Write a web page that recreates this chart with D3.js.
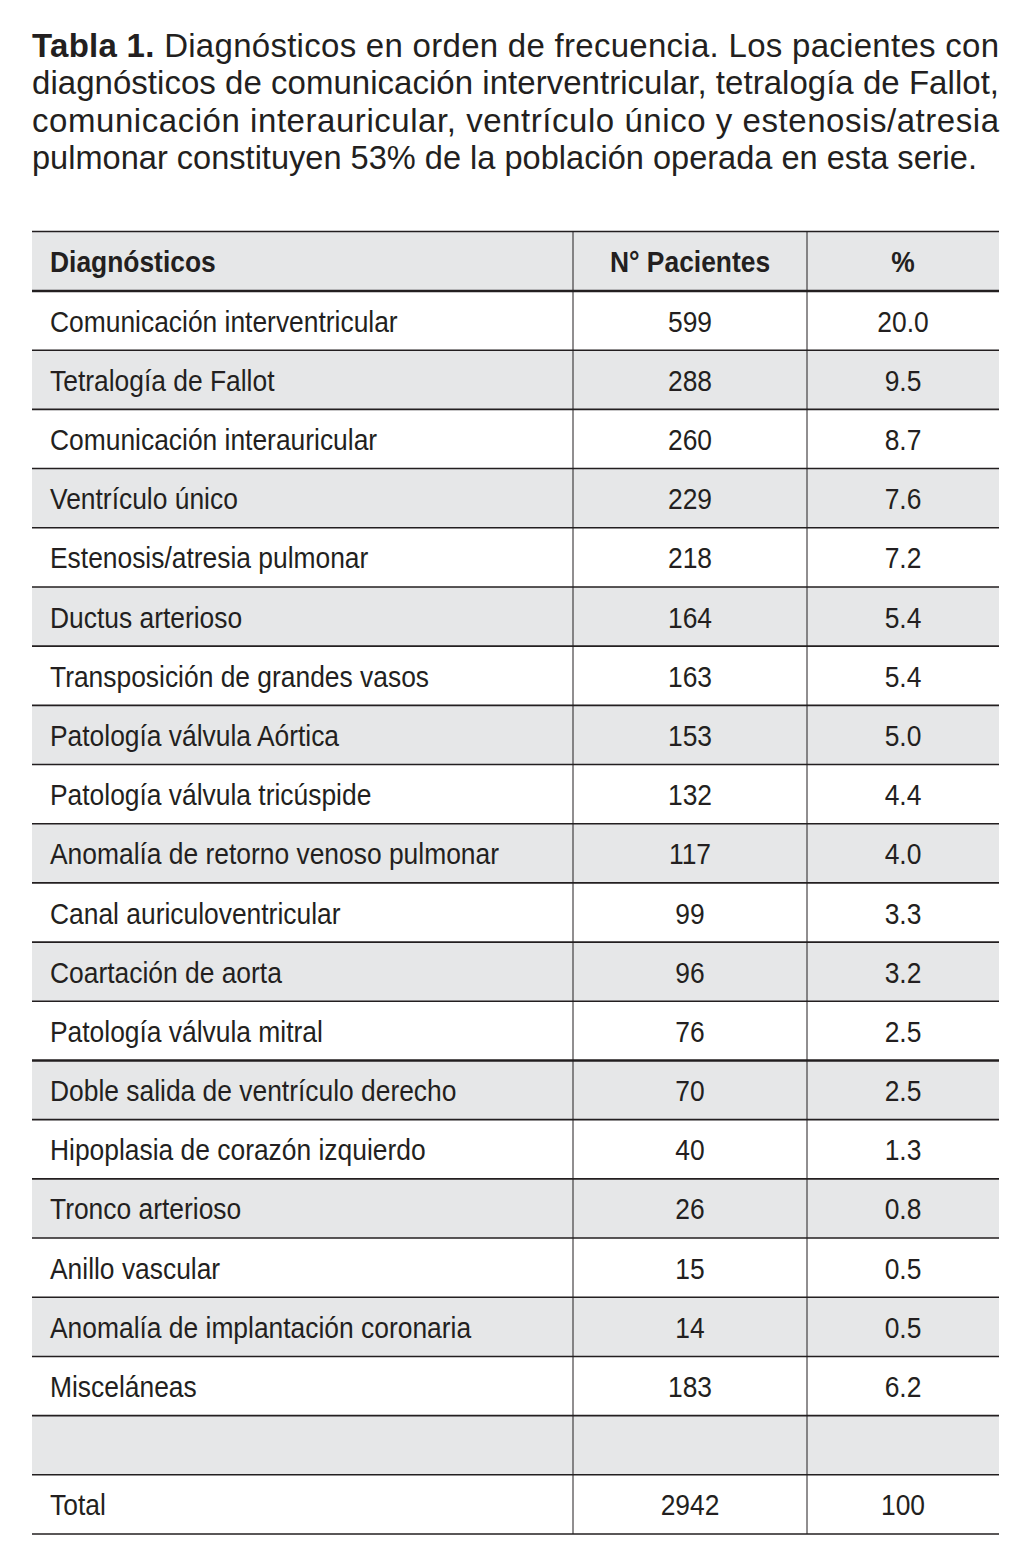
<!DOCTYPE html>
<html>
<head>
<meta charset="utf-8">
<script src="https://d3js.org/d3.v7.min.js"></script>
<title>Tabla 1</title>
<style>
  body { margin: 0; padding: 0; background: #fff; }
  svg text { font-family: "Liberation Sans", Arial, Helvetica, sans-serif; fill: #231f20; }
</style>
</head>
<body>
<script>
// datos de la tabla
var diagnosticos = [
  "Comunicación interventricular",
  "Tetralogía de Fallot",
  "Comunicación interauricular",
  "Ventrículo único",
  "Estenosis/atresia pulmonar",
  "Ductus arterioso",
  "Transposición de grandes vasos",
  "Patología válvula Aórtica",
  "Patología válvula tricúspide",
  "Anomalía de retorno venoso pulmonar",
  "Canal auriculoventricular",
  "Coartación de aorta",
  "Patología válvula mitral",
  "Doble salida de ventrículo derecho",
  "Hipoplasia de corazón izquierdo",
  "Tronco arterioso",
  "Anillo vascular",
  "Anomalía de implantación coronaria",
  "Misceláneas"
];
var pacientes = [599, 288, 260, 229, 218, 164, 163, 153, 132, 117, 99, 96, 76, 70, 40, 26, 15, 14, 183];
var porcentaje = [20.0, 9.5, 8.7, 7.6, 7.2, 5.4, 5.4, 5.0, 4.4, 4.0, 3.3, 3.2, 2.5, 2.5, 1.3, 0.8, 0.5, 0.5, 6.2];
var encabezados = ["Diagnósticos", "N° Pacientes", "%"];
var total = {label: "Total", n: 2942, pct: "100"};

var tituloLineas = [
  [{t: "Tabla 1.", b: true}, {t: " Diagnósticos en orden de frecuencia. Los pacientes con"}],
  [{t: "diagnósticos de comunicación interventricular, tetralogía de Fallot,"}],
  [{t: "comunicación interauricular, ventrículo único y estenosis/atresia"}],
  [{t: "pulmonar constituyen 53% de la población operada en esta serie."}]
];

var width = 1025, height = 1566;
var left = 32, right = 999;
var colX = [left, 573, 807, right];
var top0 = 231.5, headBottom = 291, bottom = 1534;
var fmt = d3.format(".1f");

var rows = diagnosticos.map(function(d, i) {
  return {label: d, n: String(pacientes[i]), pct: fmt(porcentaje[i])};
});
rows.push({label: "", n: "", pct: ""});
rows.push({label: total.label, n: String(total.n), pct: total.pct});

var svg = d3.select("body").append("svg")
  .attr("width", width).attr("height", height);

// titulo justificado
var titulo = svg.append("g");
tituloLineas.forEach(function(line, i) {
  var y = 56.5 + i * 37.6;
  var t = titulo.append("text")
    .attr("x", left).attr("y", y)
    .style("font-size", "33px");
  if (i < 3) t.attr("textLength", right - left).attr("lengthAdjust", "spacing");
  else t.attr("textLength", 977 - left).attr("lengthAdjust", "spacingAndGlyphs");
  line.forEach(function(s) {
    t.append("tspan").text(s.t).style("font-weight", s.b ? "bold" : "normal");
  });
});

var y = d3.scaleBand()
  .domain(d3.range(rows.length))
  .range([headBottom, bottom]);

// fondos
svg.append("rect")
  .attr("x", left).attr("y", top0)
  .attr("width", right - left).attr("height", headBottom - top0)
  .attr("fill", "#e6e7e8");

svg.selectAll(".fila")
  .data(rows)
  .enter().append("rect")
  .attr("class", "fila")
  .attr("x", left)
  .attr("y", function(d, i) { return y(i); })
  .attr("width", right - left)
  .attr("height", y.bandwidth())
  .attr("fill", function(d, i) { return i % 2 ? "#e6e7e8" : "#fff"; });

// lineas verticales
svg.selectAll(".vline")
  .data([colX[1], colX[2]])
  .enter().append("line")
  .attr("x1", function(d) { return d; }).attr("x2", function(d) { return d; })
  .attr("y1", top0).attr("y2", bottom)
  .attr("stroke", "#231f20").attr("stroke-width", 1);

// lineas horizontales
var hl = [{y: top0, w: 1.6}, {y: headBottom, w: 2.6}];
rows.forEach(function(d, i) {
  hl.push({y: y(i) + y.bandwidth(), w: (i === 12) ? 2.6 : 1.6});
});
svg.selectAll(".hline")
  .data(hl)
  .enter().append("line")
  .attr("x1", left).attr("x2", right)
  .attr("y1", function(d) { return d.y; }).attr("y2", function(d) { return d.y; })
  .attr("stroke", "#231f20")
  .attr("stroke-width", function(d) { return d.w; });

// texto condensado
function condensed(sel, x, yy, anchor, txt, bold) {
  var g = sel.append("g").attr("transform", "translate(" + x + "," + yy + ") scale(0.88,1)");
  g.append("text")
    .attr("text-anchor", anchor)
    .style("font-size", "30px")
    .style("font-weight", bold ? "bold" : "normal")
    .text(txt);
}

var head = svg.append("g");
var hy = (top0 + headBottom) / 2 + 11;
condensed(head, 50, hy, "start", encabezados[0], true);
condensed(head, (colX[1] + colX[2]) / 2, hy, "middle", encabezados[1], true);
condensed(head, (colX[2] + colX[3]) / 2, hy, "middle", encabezados[2], true);

var body = svg.append("g");
rows.forEach(function(d, i) {
  var yy = y(i) + y.bandwidth() / 2 + 11;
  condensed(body, 50, yy, "start", d.label, false);
  condensed(body, (colX[1] + colX[2]) / 2, yy, "middle", d.n, false);
  condensed(body, (colX[2] + colX[3]) / 2, yy, "middle", d.pct, false);
});
</script>
</body>
</html>
